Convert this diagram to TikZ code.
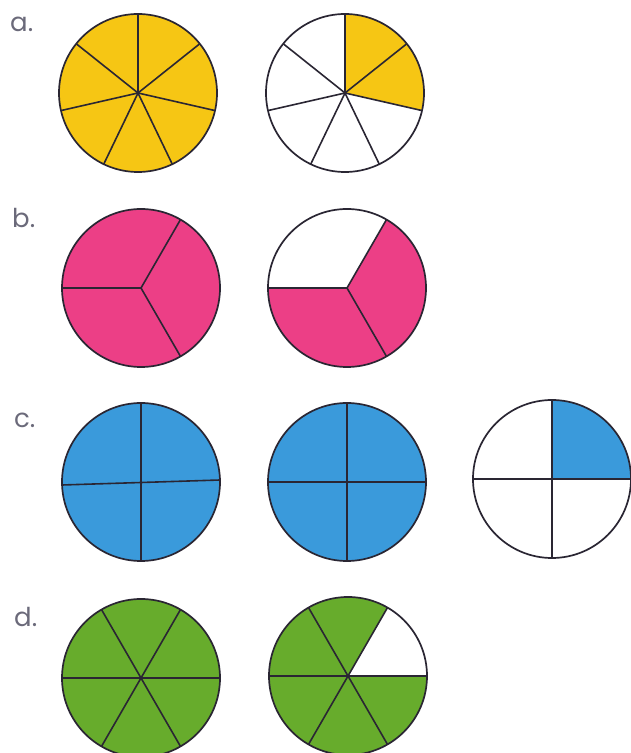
\documentclass[tikz,border=0pt]{standalone}
\usepackage{fontspec}
\newfontfamily\labfont{Poppins}
\definecolor{fyellow}{HTML}{F6C614}
\definecolor{fpink}{HTML}{EC3F86}
\definecolor{fblue}{HTML}{3A9ADB}
\definecolor{fgreen}{HTML}{67AC2C}
\definecolor{edge}{HTML}{2A2633}
\definecolor{labgray}{HTML}{6B6A7A}
\tikzset{
  rim/.style={draw=edge, line width=1.7pt},
  ray/.style={draw=edge, line width=1.6pt},
  lab/.style={anchor=base west, inner sep=0pt, text=labgray, font=\labfont\fontsize{26}{30}\selectfont}
}
\begin{document}
\begin{tikzpicture}[x=1pt,y=1pt]
\useasboundingbox (0,0) rectangle (631,753);
\def\R{79}
% labels
\node[lab] (la) at (10,721) {a.};
\node[lab] (lb) at (12,525) {b.};
\node[lab] (lc) at (14,325) {c.};
\node[lab] (ld) at (14,126) {d.};
% centres
\coordinate (a1) at (138,660);
\coordinate (a2) at (345,660);
\coordinate (b1) at (141,465);
\coordinate (b2) at (347,465);
\coordinate (c1) at (141,271);
\coordinate (c2) at (347,271);
\coordinate (c3) at (552,274);
\coordinate (d1) at (141,75);
\coordinate (d2) at (348,77);
% ---- row a (sevenths)
\fill[fyellow] (a1) circle[radius=\R];
\fill[fyellow] (a2) -- ++(-12.857:\R) arc[start angle=-12.857, end angle=90, radius=\R] -- cycle;
\foreach \c in {a1,a2}{
  \foreach \k in {0,...,6}{
    \draw[ray] (\c) -- ++({90-\k*360/7}:\R);
  }
  \draw[rim] (\c) circle[radius=\R];
}
% ---- row b (thirds)
\fill[fpink] (b1) circle[radius=\R];
\fill[fpink] (b2) -- ++(180:\R) arc[start angle=180, end angle=420, radius=\R] -- cycle;
\foreach \c in {b1,b2}{
  \foreach \a in {180,60,-60}{
    \draw[ray] (\c) -- ++(\a:\R);
  }
  \draw[rim] (\c) circle[radius=\R];
}
% ---- row c (quarters)
\fill[fblue] (c1) circle[radius=\R];
\fill[fblue] (c2) circle[radius=\R];
\fill[fblue] (c3) -- ++(0:\R) arc[start angle=0, end angle=90, radius=\R] -- cycle;
\draw[ray] (c1) ++(-\R,-3) -- ++(2*\R,5);
\draw[ray] (c1) ++(0,\R) -- ++(0,-2*\R);
\foreach \c in {c2,c3}{
  \draw[ray] (\c) ++(-\R,0) -- ++(2*\R,0);
  \draw[ray] (\c) ++(0,\R) -- ++(0,-2*\R);
}
\foreach \c in {c1,c2,c3}{
  \draw[rim] (\c) circle[radius=\R];
}
% ---- row d (sixths)
\fill[fgreen] (d1) circle[radius=\R];
\fill[fgreen] (d2) -- ++(60:\R) arc[start angle=60, end angle=360, radius=\R] -- cycle;
\foreach \c in {d1,d2}{
  \foreach \a in {0,60,...,300}{
    \draw[ray] (\c) -- ++(\a:\R);
  }
  \draw[rim] (\c) circle[radius=\R];
}
\end{tikzpicture}
\end{document}
